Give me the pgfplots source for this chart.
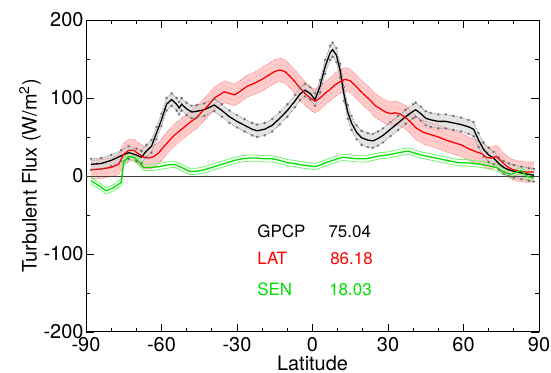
\documentclass[border=0pt]{standalone}
\usepackage{pgfplots}
\pgfplotsset{compat=1.18}
\usepackage{pgfplotstable}
\usepgfplotslibrary{fillbetween}
\usepackage{fontspec}
\setmainfont{TeX Gyre Heros}
\definecolor{sengreen}{RGB}{0,225,0}
\definecolor{senlight}{RGB}{110,245,110}

\pgfplotstableread{
lat v e
-88 15 7
-84 16 7
-80 20 7
-76 26 7
-73 30 8
-70 27 8
-68 24 8
-66 32 8
-64 38 8
-62 55 8
-60 72 8
-58 92 8
-56 98 8
-54 92 8
-53 87 8
-52 92 8
-50 86 8
-48 82 8
-46 83 8
-43 85 8
-39 91 8
-36 84 8
-33 76 8
-30 70 8
-27 65 8
-24 60 8
-22 58 8
-19 60 8
-16 65 8
-13 74 8
-10 84 8
-7 96 8
-5 105 8
-3 110 8
-1 106 8
1 98 8
3 115 8
5 140 9
7 158 9
8 162 9
9.5 155 9
11 135 9
12.5 105 9
14 82 9
15.5 68 9
17.5 56 9
19.5 49 9
22 46 9
24 45 9
26 48 9
28 52 9
31 60 9
34 68 9
37 76 9
40 83 9
41 85 9
43 80 9
45 74 9
47 72 9
50 70 9
53 70 9
56 68 9
59 66 9
62 63 9
64 60 9
66 46 9
68 34 9
70 27 9
72 23 8
74 16 8
76 11 8
78 8 8
80 6 8
83 4 8
86 2 8
88 1 8
}\gpcpdata

\pgfplotstableread{
lat v e
-88 8 12
-84 9 12
-80 11 12
-77 15 13
-75 28 14
-73 33 14
-71 33 14
-69 28 14
-67 24 14
-65 23 14
-63 25 14
-61 30 14
-59 38 14
-57 45 14
-55 52 14
-52 60 14
-49 68 14
-46 75 14
-44 82 14
-41 92 14
-39 100 14
-37 104 14
-35 108 14
-33 106 14
-31 104 14
-29 108 14
-26 115 14
-23 119 14
-20 124 15
-17 130 15
-15 134 15
-13 136 15
-11 134 15
-9 128 15
-7 121 15
-5 113 15
-3 106 15
-1 100 15
1 96 15
3 100 15
5 106 15
7 111 15
9 117 15
11 121 15
13 124 15
15 122 15
17 116 15
19 109 15
21 103 15
23 97 15
25 90 15
27 86 15
29 82 15
31 80 15
33 81 15
35 79 15
37 75 15
39 69 15
41 62 15
44 56 15
47 53 15
50 50 15
53 46 15
56 43 15
59 40 15
62 35 15
65 31 15
67 29 14
69 24 14
71 23 14
73 25 14
75 19 14
77 13 13
79 9 13
82 6 13
85 5 13
88 5 13
}\latdata

\pgfplotstableread{
lat v e
-88 -6 4
-85 -12 4
-82 -19 4
-79 -15 4
-76 -8 4
-75 18 4
-73 25 4
-71 24 4
-69 18 4
-67 11 4
-64 11 4
-61 12 4
-58 14 4
-55 15 4
-52 11 4
-49 6 4
-46 6 4
-43 8 4
-40 11 4
-37 14 4
-34 17 4
-31 20 4
-28 22 4
-25 23 4
-22 23 4
-19 22 4
-16 22 4
-13 20 4
-10 17 4
-7 16 4
-4 14 4
-1 13 4
1 12 4
3 14 4
6 18 4
9 21 4
12 24 4
15 23 4
18 22 4
21 22 4
24 24 4
27 26 4
30 27 4
33 29 4
36 31 4
38 32 4
40 30 4
43 27 4
46 25 4
49 23 4
52 21 4
55 19 4
58 17 4
61 17 4
64 16 4
67 15 4
70 13 4
73 11 4
75 7 4
77 4 4
79 2 4
81 5 4
83 7 4
85 0 4
88 -3 4
}\sendata

\begin{document}
\begin{tikzpicture}
\begin{axis}[
  at={(86bp,41bp)}, anchor=south west,
  scale only axis, width=453bp, height=312bp,
  xmin=-90, xmax=90, ymin=-200, ymax=200,
  xtick={-90,-60,-30,0,30,60,90},
  xticklabels={-90,-60,-30,0,30,60,90},
  ytick={-200,-100,0,100,200},
  yticklabels={-200,-100,0,100,200},
  minor xtick={-80,-70,-50,-40,-20,-10,10,20,40,50,70,80},
  minor ytick={-150,-50,50,150},
  tick align=inside,
  major tick length=8bp, minor tick length=4bp,
  every tick/.style={black, line width=0.8bp},
  axis line style={line width=1bp},
  tick label style={font=\fontsize{20}{22}\selectfont},
  xticklabel style={yshift=-2bp},
  yticklabel style={xshift=1bp},
  label style={font=\fontsize{20}{22}\selectfont},
  xlabel={Latitude},
  ylabel={Turbulent Flux (W/m\textsuperscript{2})},
  xlabel style={inner sep=0pt, yshift=-1bp},
  ylabel style={yshift=-4bp},
]
% LAT band
\addplot[name path=ru, draw=none, forget plot] table[x=lat, y expr=\thisrow{v}+\thisrow{e}] {\latdata};
\addplot[name path=rl, draw=none, forget plot] table[x=lat, y expr=\thisrow{v}-\thisrow{e}] {\latdata};
\addplot[red!20, forget plot] fill between[of=ru and rl];
\addplot[red!70, densely dotted, line width=0.6bp, forget plot] table[x=lat, y expr=\thisrow{v}+\thisrow{e}] {\latdata};
\addplot[red!70, densely dotted, line width=0.6bp, forget plot] table[x=lat, y expr=\thisrow{v}-\thisrow{e}] {\latdata};
\addplot[red!45, densely dotted, line width=0.5bp, forget plot] table[x=lat, y expr=\thisrow{v}+0.5*\thisrow{e}] {\latdata};
\addplot[red!45, densely dotted, line width=0.5bp, forget plot] table[x=lat, y expr=\thisrow{v}-0.5*\thisrow{e}] {\latdata};
% GPCP band
\addplot[name path=gu, draw=none, forget plot] table[x=lat, y expr=\thisrow{v}+\thisrow{e}] {\gpcpdata};
\addplot[name path=gl, draw=none, forget plot] table[x=lat, y expr=\thisrow{v}-\thisrow{e}] {\gpcpdata};
\addplot[gray!30, fill opacity=0.7, forget plot] fill between[of=gu and gl];
\addplot[black!60, densely dotted, line width=0.6bp, mark=asterisk, mark size=1.3bp, mark options={solid, line width=0.4bp}, forget plot] table[x=lat, y expr=\thisrow{v}+\thisrow{e}] {\gpcpdata};
\addplot[black!60, densely dotted, line width=0.6bp, mark=asterisk, mark size=1.3bp, mark options={solid, line width=0.4bp}, forget plot] table[x=lat, y expr=\thisrow{v}-\thisrow{e}] {\gpcpdata};
% SEN band
\addplot[senlight, line width=0.8bp, forget plot] table[x=lat, y expr=\thisrow{v}+\thisrow{e}] {\sendata};
\addplot[senlight, line width=0.8bp, forget plot] table[x=lat, y expr=\thisrow{v}-\thisrow{e}] {\sendata};
% zero line
\addplot[black!75, line width=0.7bp, forget plot] coordinates {(-90,0) (90,0)};
% main lines
\addplot[black, line width=1.3bp] table[x=lat, y=v] {\gpcpdata};
\addplot[red, line width=1.3bp] table[x=lat, y=v] {\latdata};
\addplot[sengreen, line width=1.3bp] table[x=lat, y=v] {\sendata};
% annotations
\node[anchor=base west, inner sep=0pt, font=\fontsize{17}{19}\selectfont, black] at (axis cs:-22,-78.6) {GPCP};
\node[anchor=base west, inner sep=0pt, font=\fontsize{17}{19}\selectfont, black] at (axis cs:6.3,-78.6) {75.04};
\node[anchor=base west, inner sep=0pt, font=\fontsize{17}{19}\selectfont, red] at (axis cs:-22,-114) {LAT};
\node[anchor=base west, inner sep=0pt, font=\fontsize{17}{19}\selectfont, red] at (axis cs:7,-114) {86.18};
\node[anchor=base west, inner sep=0pt, font=\fontsize{17}{19}\selectfont, sengreen] at (axis cs:-22,-152.6) {SEN};
\node[anchor=base west, inner sep=0pt, font=\fontsize{17}{19}\selectfont, sengreen] at (axis cs:6.6,-152.6) {18.03};
\end{axis}
\pgfresetboundingbox
\path[use as bounding box] (0,0) rectangle (551bp,373bp);
\end{tikzpicture}
\end{document}
